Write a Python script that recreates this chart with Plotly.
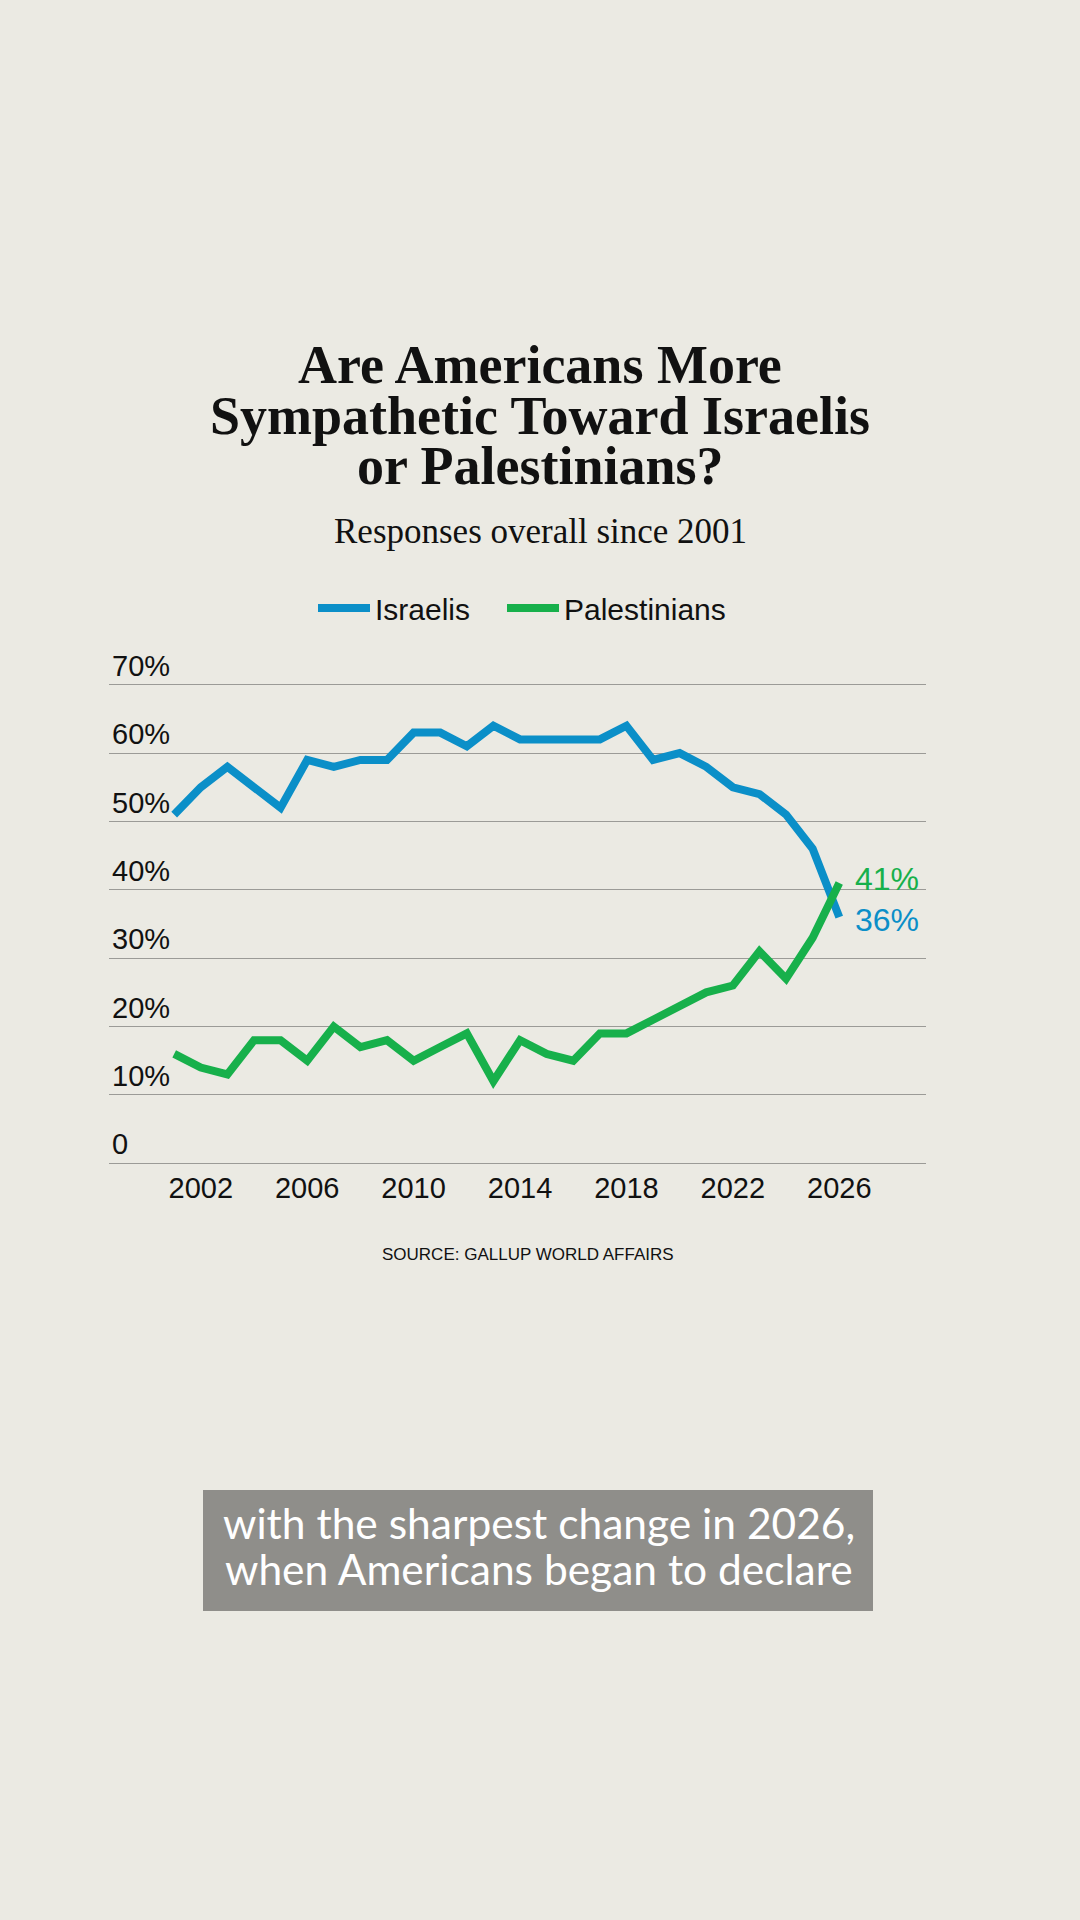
import plotly.graph_objects as go

# ---------------- data ----------------
YEARS = list(range(2001, 2027))
ISRAELIS = [51, 55, 58, 55, 52, 59, 58, 59, 59, 63, 63, 61, 64, 62, 62, 62, 62, 64, 59, 60, 58, 55, 54, 51, 46, 36]
PALESTINIANS = [16, 14, 13, 18, 18, 15, 20, 17, 18, 15, 17, 19, 12, 18, 16, 15, 19, 19, 21, 23, 25, 26, 31, 27, 33, 41]
SERIES_NAMES = ["Israelis", "Palestinians"]
X_TICKS = [2002, 2006, 2010, 2014, 2018, 2022, 2026]
Y_TICKS = [0, 10, 20, 30, 40, 50, 60, 70]
Y_TICK_TEXT = ["0", "10%", "20%", "30%", "40%", "50%", "60%", "70%"]
TITLE_LINES = ["Are Americans More", "Sympathetic Toward Israelis", "or Palestinians?"]
SUBTITLE = "Responses overall since 2001"
SOURCE = "SOURCE: GALLUP WORLD AFFAIRS"
CAPTION_LINES = ["with the sharpest change in 2026,", "when Americans began to declare"]

# ---------------- style ----------------
W, H = 1080, 1920
BG = "#EBEAE3"
BLUE = "#0B8FC8"
GREEN = "#17B04B"
GRID = "#9B9B97"
SANS = "Liberation Sans, Arial, sans-serif"
NARROW = "Liberation Sans Narrow, Arial Narrow, Liberation Sans, sans-serif"
SERIF = "Liberation Serif, Times New Roman, serif"

PL, PR, PT, PB = 109, 926, 682, 1166  # plot area in pixels (y range padded slightly)


def px_x(p):
    return (p - PL) / (PR - PL)


def px_y(p):
    return (PB - p) / (PB - PT)


fig = go.Figure()
fig.add_trace(go.Scatter(x=YEARS, y=ISRAELIS, name=SERIES_NAMES[0], mode="lines",
                         legend="legend",
                         line=dict(color=BLUE, width=8), hoverinfo="skip"))
fig.add_trace(go.Scatter(x=YEARS, y=PALESTINIANS, name=SERIES_NAMES[1], mode="lines",
                         legend="legend2",
                         line=dict(color=GREEN, width=8), hoverinfo="skip"))

annotations = []
# title
for line, yc in zip(TITLE_LINES, [365, 416, 466]):
    annotations.append(dict(xref="paper", yref="paper", x=px_x(540), y=px_y(yc),
                            xanchor="center", yanchor="middle", showarrow=False,
                            text="<b>" + line + "</b>",
                            font=dict(family=SERIF, size=54, color="#111111")))
annotations.append(dict(xref="paper", yref="paper", x=px_x(540), y=px_y(531),
                        xanchor="center", yanchor="middle", showarrow=False,
                        text=SUBTITLE, font=dict(family=SERIF, size=35, color="#111111")))
# end labels
annotations.append(dict(x=YEARS[-1], y=PALESTINIANS[-1], xanchor="left", yanchor="middle",
                        xshift=14, yshift=4, showarrow=False, text=f"{PALESTINIANS[-1]}%",
                        font=dict(family=SANS, size=32, color=GREEN)))
annotations.append(dict(x=YEARS[-1], y=ISRAELIS[-1], xanchor="left", yanchor="middle",
                        xshift=14, yshift=-3, showarrow=False, text=f"{ISRAELIS[-1]}%",
                        font=dict(family=SANS, size=32, color=BLUE)))
# source
annotations.append(dict(xref="paper", yref="paper", x=px_x(528), y=px_y(1254),
                        xanchor="center", yanchor="middle", showarrow=False,
                        text=SOURCE, font=dict(family=NARROW, size=17, color="#111111")))
# caption
for line, yc in zip(CAPTION_LINES, [1522, 1568]):
    annotations.append(dict(xref="paper", yref="paper", x=px_x(539), y=px_y(yc),
                            xanchor="center", yanchor="middle", showarrow=False,
                            text=line,
                            font=dict(family="Lato, Open Sans, sans-serif", size=42.5, color="#FFFFFF")))

shapes = [dict(type="rect", xref="paper", yref="paper",
               x0=px_x(203), x1=px_x(873), y0=px_y(1611), y1=px_y(1490),
               fillcolor="#8F8E8A", line=dict(width=0), layer="below")]

legend_common = dict(orientation="h", xref="container", yref="container",
                     xanchor="left", yanchor="middle", y=1 - 608 / H,
                     font=dict(family=NARROW, size=30, color="#111111"),
                     bgcolor="rgba(0,0,0,0)", itemwidth=52)

fig.update_layout(
    width=W, height=H,
    margin=dict(l=PL, r=W - PR, t=PT, b=H - PB, pad=0),
    paper_bgcolor=BG, plot_bgcolor=BG,
    showlegend=True,
    legend=dict(x=(320 - 7) / W, **legend_common),
    legend2=dict(x=(509 - 7) / W, **legend_common),
    annotations=annotations,
    shapes=shapes,
    xaxis=dict(range=[1998.55, 2029.26], tickvals=X_TICKS, showgrid=False, zeroline=False,
               showline=False, ticks="", fixedrange=True, ticklabelstandoff=2,
               tickfont=dict(family=SANS, size=29, color="#111111")),
    yaxis=dict(range=[-0.4, 70.4], tickvals=Y_TICKS, ticktext=Y_TICK_TEXT, showgrid=True,
               gridcolor=GRID, gridwidth=1.3, zeroline=False, showline=False, ticks="",
               ticklabelposition="inside", ticklabelshift=-19, ticklabeloverflow="allow",
               ticklabelstandoff=0, fixedrange=True,
               tickfont=dict(family=SANS, size=29, color="#111111")),
)

fig.write_html("out.html", config={"displayModeBar": False})
